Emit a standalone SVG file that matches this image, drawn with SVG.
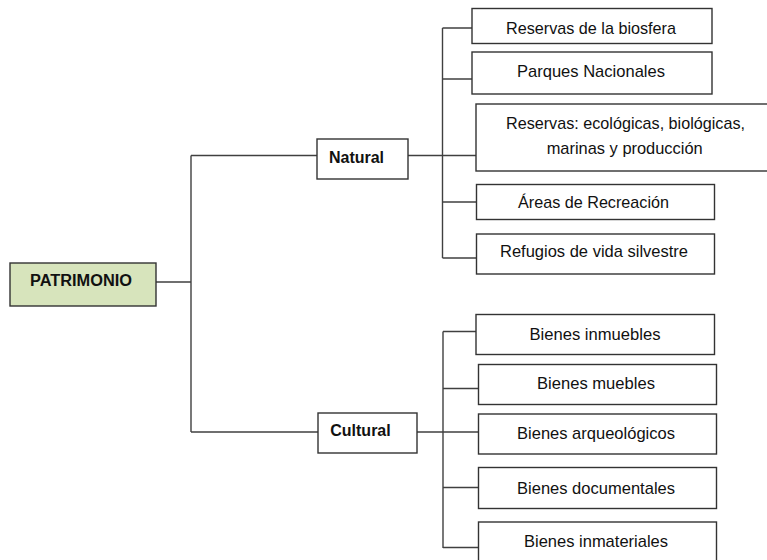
<svg xmlns="http://www.w3.org/2000/svg" width="767" height="560" viewBox="0 0 767 560">
<style>
.box{fill:#ffffff;stroke:#333333;stroke-width:1.4}
.root{fill:#d7e4bc;stroke:#333333;stroke-width:1.4}
.ln{stroke:#404040;stroke-width:1.4;fill:none}
.t{font-family:"Liberation Sans",Arial,sans-serif;font-size:16px;fill:#111111;text-anchor:middle}
.c{font-size:17px}
.b{font-weight:bold}
</style>
<rect width="767" height="560" fill="#ffffff"/>
<g id="connectors">
<path class="ln" d="M156 282H191M191 155.5V432M191 155.5H317M191 432H318"/>
<path class="ln" d="M408 155.5H476M442.5 28V258M442.5 28H472M442.5 79H472M442.5 202H476M442.5 258H476"/>
<path class="ln" d="M417 432H478M443 331.5V548M443 331.5H476M443 388.5H478M443 487.5H478M443 547.5H478"/>
</g>
<g id="patrimonio"><rect class="root" x="10" y="263" width="146" height="43"/><text class="t b" x="81" y="286" font-size="17" textLength="102" lengthAdjust="spacingAndGlyphs">PATRIMONIO</text></g>
<g id="natural"><rect class="box" x="317" y="139" width="91" height="40"/><text class="t b" x="356.5" y="163">Natural</text></g>
<g id="cultural"><rect class="box" x="318" y="413" width="99" height="40"/><text class="t b" x="360.5" y="436">Cultural</text></g>
<g id="n1"><rect class="box" x="472" y="8.5" width="240" height="35"/><text class="t c" x="591" y="34" textLength="170" lengthAdjust="spacingAndGlyphs">Reservas de la biosfera</text></g>
<g id="n2"><rect class="box" x="472" y="52" width="240" height="42"/><text class="t c" x="591" y="77" textLength="148" lengthAdjust="spacingAndGlyphs">Parques Nacionales</text></g>
<g id="n3"><rect class="box" x="476" y="104" width="300" height="67"/><text class="t c" x="625.5" y="129" textLength="239" lengthAdjust="spacingAndGlyphs">Reservas: ecológicas, biológicas,</text><text class="t c" x="624.7" y="153.5" textLength="156" lengthAdjust="spacingAndGlyphs">marinas y producción</text></g>
<g id="n4"><rect class="box" x="476.5" y="184.5" width="238" height="35"/><text class="t c" x="593.5" y="208" textLength="151" lengthAdjust="spacingAndGlyphs">Áreas de Recreación</text></g>
<g id="n5"><rect class="box" x="476.5" y="234" width="238" height="40"/><text class="t c" x="594" y="257" textLength="188" lengthAdjust="spacingAndGlyphs">Refugios de vida silvestre</text></g>
<g id="c1"><rect class="box" x="476" y="314.5" width="238.5" height="40"/><text class="t c" x="595" y="340" textLength="131" lengthAdjust="spacingAndGlyphs">Bienes inmuebles</text></g>
<g id="c2"><rect class="box" x="478.5" y="364.5" width="238" height="40"/><text class="t c" x="596" y="389" textLength="118" lengthAdjust="spacingAndGlyphs">Bienes muebles</text></g>
<g id="c3"><rect class="box" x="478.5" y="414" width="238" height="40"/><text class="t c" x="596" y="438.5" textLength="158" lengthAdjust="spacingAndGlyphs">Bienes arqueológicos</text></g>
<g id="c4"><rect class="box" x="478.5" y="467.5" width="238" height="41"/><text class="t c" x="596" y="493.5" textLength="158" lengthAdjust="spacingAndGlyphs">Bienes documentales</text></g>
<g id="c5"><rect class="box" x="478.5" y="522" width="238" height="45"/><text class="t c" x="596" y="546.5" textLength="144" lengthAdjust="spacingAndGlyphs">Bienes inmateriales</text></g>
</svg>
